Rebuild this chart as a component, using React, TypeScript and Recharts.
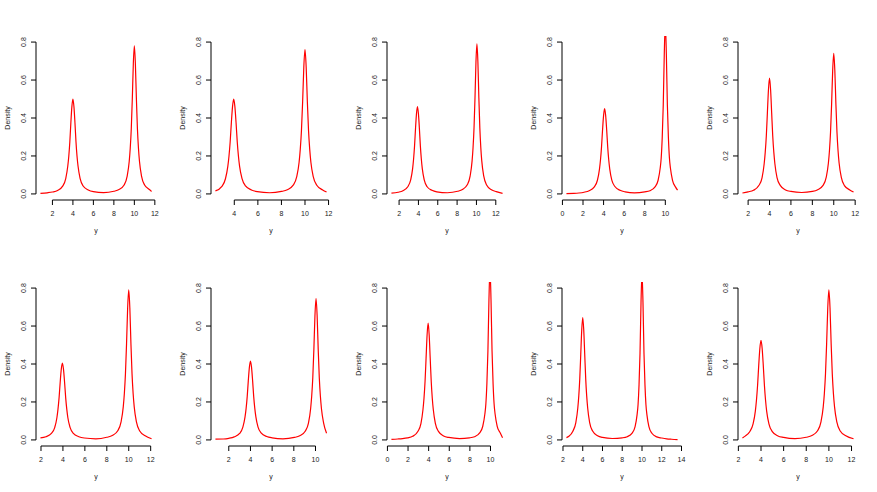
import { LineChart, Line, XAxis, YAxis, ReferenceLine } from 'recharts';

// density curves: [y value, density]
const topPanel1 = [
  [0.83, 0.003], [1.5, 0.006], [2.0, 0.010], [2.5, 0.018], [3.0, 0.041], [3.3, 0.081], [3.5, 0.147],
  [3.6, 0.20], [3.7, 0.275], [3.8, 0.375], [3.9, 0.46], [4.0, 0.50], [4.1, 0.46], [4.2, 0.375],
  [4.3, 0.275], [4.4, 0.20], [4.5, 0.147], [4.7, 0.082], [5.0, 0.042], [5.5, 0.021], [6.0, 0.012],
  [7.0, 0.0064], [8.0, 0.014], [8.5, 0.023], [9.0, 0.047], [9.3, 0.094], [9.5, 0.172], [9.6, 0.242],
  [9.7, 0.343], [9.8, 0.50], [9.9, 0.686], [10.0, 0.78], [10.1, 0.686], [10.2, 0.50], [10.3, 0.343],
  [10.4, 0.242], [10.5, 0.172], [10.7, 0.094], [11.0, 0.047], [11.5, 0.022], [11.68, 0.013],
];
const topPanel2 = [
  [2.4, 0.016], [2.95, 0.04], [3.25, 0.08], [3.45, 0.145], [3.55, 0.20], [3.65, 0.275], [3.75, 0.375],
  [3.85, 0.46], [3.95, 0.50], [4.05, 0.46], [4.15, 0.375], [4.25, 0.275], [4.35, 0.20], [4.45, 0.145],
  [4.65, 0.082], [4.95, 0.042], [5.45, 0.021], [5.95, 0.012], [7.0, 0.0063], [8.0, 0.013], [8.5, 0.022],
  [9.0, 0.046], [9.3, 0.091], [9.5, 0.167], [9.6, 0.236], [9.7, 0.334], [9.8, 0.486], [9.9, 0.669],
  [10.0, 0.76], [10.1, 0.669], [10.2, 0.486], [10.3, 0.334], [10.4, 0.236], [10.5, 0.167], [10.7, 0.091],
  [11.0, 0.046], [11.5, 0.021], [11.83, 0.010],
];
const topPanel3 = [
  [1.21, 0.004], [1.9, 0.009], [2.4, 0.017], [2.9, 0.038], [3.2, 0.074], [3.4, 0.133], [3.5, 0.184],
  [3.6, 0.253], [3.7, 0.345], [3.8, 0.423], [3.9, 0.46], [4.0, 0.423], [4.1, 0.345], [4.2, 0.253],
  [4.3, 0.184], [4.4, 0.133], [4.6, 0.074], [4.9, 0.038], [5.4, 0.019], [5.9, 0.011], [7.0, 0.0063],
  [8.05, 0.014], [8.55, 0.023], [9.05, 0.048], [9.35, 0.095], [9.55, 0.174], [9.65, 0.245], [9.75, 0.348],
  [9.85, 0.506], [9.95, 0.695], [10.05, 0.79], [10.15, 0.695], [10.25, 0.506], [10.35, 0.348],
  [10.45, 0.245], [10.55, 0.174], [10.75, 0.095], [11.05, 0.047], [11.55, 0.022], [12.05, 0.012],
  [12.7, 0.003],
];
const topPanel4 = [
  [0.39, 0.002], [1.1, 0.003], [1.6, 0.005], [2.1, 0.009], [2.6, 0.017], [3.1, 0.037], [3.4, 0.072],
  [3.6, 0.131], [3.7, 0.18], [3.8, 0.248], [3.9, 0.338], [4.0, 0.414], [4.1, 0.45], [4.2, 0.414],
  [4.3, 0.338], [4.4, 0.248], [4.5, 0.18], [4.6, 0.131], [4.8, 0.073], [5.1, 0.039], [5.6, 0.019],
  [6.1, 0.011], [7.0, 0.006], [8.0, 0.011], [8.5, 0.017], [9.0, 0.037], [9.3, 0.072], [9.5, 0.135],
  [9.6, 0.189], [9.7, 0.297], [9.8, 0.468], [9.9, 0.738], [10.0, 0.90], [10.1, 0.738], [10.2, 0.468],
  [10.3, 0.297], [10.4, 0.189], [10.5, 0.135], [10.7, 0.072], [11.0, 0.036], [11.19, 0.02],
];
const topPanel5 = [
  [1.47, 0.005], [2.0, 0.011], [2.5, 0.019], [3.0, 0.044], [3.3, 0.085], [3.5, 0.159], [3.6, 0.22],
  [3.7, 0.305], [3.8, 0.427], [3.9, 0.549], [4.0, 0.61], [4.1, 0.549], [4.2, 0.427], [4.3, 0.305],
  [4.4, 0.22], [4.5, 0.159], [4.7, 0.086], [5.0, 0.045], [5.5, 0.021], [6.0, 0.013], [7.0, 0.0074],
  [8.0, 0.013], [8.5, 0.022], [9.0, 0.045], [9.3, 0.089], [9.5, 0.163], [9.6, 0.229], [9.7, 0.326],
  [9.8, 0.474], [9.9, 0.651], [10.0, 0.74], [10.1, 0.651], [10.2, 0.474], [10.3, 0.326], [10.4, 0.229],
  [10.5, 0.163], [10.7, 0.089], [11.0, 0.044], [11.5, 0.021], [11.85, 0.010],
];
const bottomPanel1 = [
  [1.95, 0.011], [2.45, 0.017], [2.95, 0.034], [3.25, 0.065], [3.45, 0.117], [3.55, 0.162],
  [3.65, 0.223], [3.75, 0.304], [3.85, 0.373], [3.95, 0.405], [4.05, 0.373], [4.15, 0.304],
  [4.25, 0.223], [4.35, 0.162], [4.45, 0.117], [4.65, 0.066], [4.95, 0.034], [5.45, 0.017],
  [5.95, 0.010], [7.0, 0.006], [8.0, 0.014], [8.5, 0.023], [9.0, 0.048], [9.3, 0.095], [9.5, 0.174],
  [9.6, 0.245], [9.7, 0.348], [9.8, 0.506], [9.9, 0.695], [10.0, 0.79], [10.1, 0.695], [10.2, 0.506],
  [10.3, 0.348], [10.4, 0.245], [10.5, 0.174], [10.7, 0.095], [11.0, 0.047], [11.5, 0.022], [12.08, 0.006],
];
const bottomPanel2 = [
  [0.77, 0.004], [1.5, 0.005], [2.0, 0.0085], [2.5, 0.016], [3.0, 0.034], [3.3, 0.067], [3.5, 0.121],
  [3.6, 0.166], [3.7, 0.228], [3.8, 0.311], [3.9, 0.382], [4.0, 0.415], [4.1, 0.382], [4.2, 0.311],
  [4.3, 0.228], [4.4, 0.166], [4.5, 0.121], [4.7, 0.067], [5.0, 0.036], [5.5, 0.018], [6.0, 0.011],
  [7.0, 0.006], [8.05, 0.013], [8.55, 0.022], [9.05, 0.046], [9.35, 0.089], [9.55, 0.164], [9.65, 0.231],
  [9.75, 0.328], [9.85, 0.477], [9.95, 0.656], [10.05, 0.745], [10.15, 0.656], [10.25, 0.477],
  [10.35, 0.328], [10.45, 0.231], [10.55, 0.164], [10.75, 0.089], [11.02, 0.035],
];
const bottomPanel3 = [
  [0.39, 0.003], [1.0, 0.005], [1.45, 0.007], [1.95, 0.011], [2.45, 0.019], [2.95, 0.044], [3.25, 0.086],
  [3.45, 0.16], [3.55, 0.221], [3.65, 0.308], [3.75, 0.431], [3.85, 0.554], [3.95, 0.615], [4.05, 0.554],
  [4.15, 0.431], [4.25, 0.308], [4.35, 0.221], [4.45, 0.16], [4.65, 0.087], [4.95, 0.045], [5.45, 0.021],
  [5.95, 0.013], [7.0, 0.0073], [7.95, 0.011], [8.45, 0.017], [8.95, 0.037], [9.25, 0.072], [9.45, 0.135],
  [9.55, 0.189], [9.65, 0.297], [9.75, 0.468], [9.85, 0.738], [9.95, 0.90], [10.05, 0.738], [10.15, 0.468],
  [10.25, 0.297], [10.35, 0.189], [10.45, 0.135], [10.65, 0.072], [10.95, 0.036], [11.17, 0.012],
];
const bottomPanel4 = [
  [2.35, 0.012], [2.6, 0.019], [3.0, 0.046], [3.3, 0.091], [3.5, 0.168], [3.6, 0.232], [3.7, 0.323],
  [3.8, 0.452], [3.9, 0.581], [4.0, 0.645], [4.1, 0.581], [4.2, 0.452], [4.3, 0.323], [4.4, 0.232],
  [4.5, 0.168], [4.7, 0.091], [5.0, 0.047], [5.5, 0.022], [6.0, 0.013], [7.0, 0.0074], [8.0, 0.011],
  [8.5, 0.017], [9.0, 0.036], [9.3, 0.07], [9.5, 0.132], [9.6, 0.185], [9.7, 0.29], [9.8, 0.458],
  [9.9, 0.722], [10.0, 0.88], [10.1, 0.722], [10.2, 0.458], [10.3, 0.29], [10.4, 0.185], [10.5, 0.132],
  [10.7, 0.07], [11.0, 0.035], [11.5, 0.016], [12.0, 0.01], [12.5, 0.0055], [13.0, 0.0035], [13.6, 0.002],
];
const bottomPanel5 = [
  [2.36, 0.010], [2.6, 0.02], [3.0, 0.043], [3.3, 0.084], [3.5, 0.152], [3.6, 0.21], [3.7, 0.289],
  [3.8, 0.394], [3.9, 0.483], [4.0, 0.525], [4.1, 0.483], [4.2, 0.394], [4.3, 0.289], [4.4, 0.21],
  [4.5, 0.152], [4.7, 0.085], [5.0, 0.044], [5.5, 0.021], [6.0, 0.013], [7.0, 0.0066], [8.0, 0.014],
  [8.5, 0.023], [9.0, 0.048], [9.3, 0.095], [9.5, 0.174], [9.6, 0.245], [9.7, 0.348], [9.8, 0.506],
  [9.9, 0.695], [10.0, 0.79], [10.1, 0.695], [10.2, 0.506], [10.3, 0.348], [10.4, 0.245], [10.5, 0.174],
  [10.7, 0.095], [11.0, 0.047], [11.5, 0.022], [12.18, 0.006],
];

// x tick labels for each panel
const ticksA = [2, 4, 6, 8, 10, 12];
const ticksB = [4, 6, 8, 10, 12];
const ticksC = [0, 2, 4, 6, 8, 10];
const ticksD = [2, 4, 6, 8, 10];
const ticksE = [2, 4, 6, 8, 10, 12, 14];
const densityTicks = [0, 0.2, 0.4, 0.6, 0.8];

const panels = [
  { points: topPanel1, ticks: ticksA },
  { points: topPanel2, ticks: ticksB },
  { points: topPanel3, ticks: ticksA },
  { points: topPanel4, ticks: ticksC },
  { points: topPanel5, ticks: ticksA },
  { points: bottomPanel1, ticks: ticksA },
  { points: bottomPanel2, ticks: ticksD },
  { points: bottomPanel3, ticks: ticksC },
  { points: bottomPanel4, ticks: ticksE },
  { points: bottomPanel5, ticks: ticksA },
];

const FONT = '"Liberation Sans", Arial, sans-serif';
const INK = '#1a1a1a';
const Y_DOMAIN: [number, number] = [-0.032, 0.832];

const XTick = (props: any) => {
  const { x, y, payload } = props;
  return (
    <text x={x} y={y + 11} textAnchor="middle" fontSize={7} fontFamily={FONT} fill={INK}>
      {payload.value}
    </text>
  );
};

const YTick = (props: any) => {
  const { x, y, payload } = props;
  const bx = x - 4.7;
  return (
    <text
      x={bx}
      y={y}
      transform={`rotate(-90 ${bx} ${y})`}
      textAnchor="middle"
      fontSize={7}
      fontFamily={FONT}
      fill={INK}
    >
      {Number(payload.value).toFixed(1)}
    </text>
  );
};

const xLabel = (props: any) => {
  const vb = props.viewBox;
  return (
    <text x={vb.x + vb.width / 2} y={vb.y + 33} textAnchor="middle" fontSize={7} fontFamily={FONT} fill={INK}>
      y
    </text>
  );
};

const yLabel = (props: any) => {
  const vb = props.viewBox;
  const cy = vb.y + vb.height / 2;
  return (
    <text x={9.5} y={cy} transform={`rotate(-90 9.5 ${cy})`} textAnchor="middle" fontSize={7} fontFamily={FONT} fill={INK}>
      Density
    </text>
  );
};

function DensityPanel({ points, ticks, left, top }: any) {
  const data = points.map(([x, d]: number[]) => ({ x, d }));
  const xs = points.map((p: number[]) => p[0]);
  const lo = Math.min(...xs);
  const hi = Math.max(...xs);
  const pad = (hi - lo) * 0.04;
  const xDomain = [lo - pad, hi + pad];

  return (
    <div style={{ position: 'absolute', left, top }}>
      <LineChart width={175} height={246} data={data} margin={{ top: 36, right: 19, bottom: 0, left: 0 }}>
        <XAxis
          type="number"
          dataKey="x"
          domain={xDomain}
          ticks={ticks}
          interval={0}
          allowDataOverflow
          axisLine={false}
          tickLine={{ stroke: '#000' }}
          tickSize={5}
          tickMargin={0}
          height={46}
          tick={XTick}
          label={xLabel}
        />
        <YAxis
          type="number"
          domain={Y_DOMAIN}
          ticks={densityTicks}
          interval={0}
          allowDataOverflow
          axisLine={false}
          tickLine={{ stroke: '#000' }}
          tickSize={5}
          tickMargin={0}
          width={36}
          tick={YTick}
          label={yLabel}
        />
        <ReferenceLine
          segment={[
            { x: ticks[0], y: Y_DOMAIN[0] },
            { x: ticks[ticks.length - 1], y: Y_DOMAIN[0] },
          ]}
          stroke="#000"
          strokeWidth={1}
          ifOverflow="visible"
        />
        <ReferenceLine
          segment={[
            { x: xDomain[0], y: densityTicks[0] },
            { x: xDomain[0], y: densityTicks[densityTicks.length - 1] },
          ]}
          stroke="#000"
          strokeWidth={1}
          ifOverflow="visible"
        />
        <Line
          type="monotone"
          dataKey="d"
          stroke="#ff0000"
          strokeWidth={1.2}
          dot={false}
          isAnimationActive={false}
        />
      </LineChart>
    </div>
  );
}

export default function App() {
  return (
    <div style={{ position: 'absolute', left: 0, top: 0, width: 877, height: 492, background: '#fff' }}>
      {panels.map((p, i) => (
        <DensityPanel
          key={i}
          points={p.points}
          ticks={p.ticks}
          left={Math.round((i % 5) * 175.4)}
          top={i < 5 ? 0 : 246}
        />
      ))}
    </div>
  );
}
